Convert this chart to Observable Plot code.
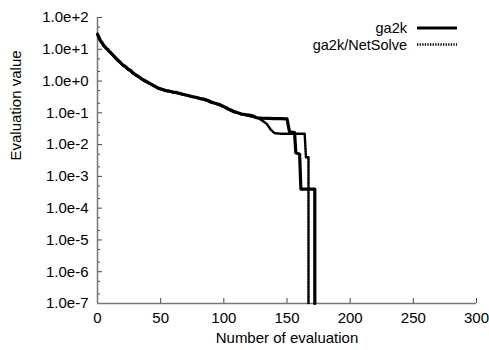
<!DOCTYPE html>
<html>
<head>
<meta charset="utf-8">
<script src="https://cdn.jsdelivr.net/npm/d3@7"></script>
<script src="https://cdn.jsdelivr.net/npm/@observablehq/plot@0.6"></script>
<style>
  html, body { margin: 0; padding: 0; background: #fff; }
  #chart { position: relative; width: 489px; height: 350px; }
</style>
</head>
<body>
<div id="chart"></div>
<script>
// Series names
const seriesNames = ["ga2k", "ga2k/NetSolve"];

// ga2k: number of evaluation vs evaluation value (1e-7 = reached zero, clipped at axis)
const ga2kEval = [0,1,2,3,4,5,6,7,8,9,10,12,14,16,18,20,22,24,26,28,30,33,36,39,42,45,48,51,54,57,60,63,66,69,72,75,78,81,84,87,90,93,96,99,102,105,108,111,114,117,120,123,126,130,135,140,145,150,152,156,157,160,161,172,172];
const ga2kValue = [30,25,20,17,15.5,13,12,10.5,10,8.8,8.2,6.8,5.6,4.6,3.9,3.2,2.9,2.4,2.2,1.8,1.6,1.35,1.1,0.95,0.82,0.7,0.6,0.55,0.5,0.48,0.45,0.43,0.4,0.37,0.35,0.32,0.31,0.28,0.27,0.25,0.22,0.2,0.185,0.165,0.14,0.125,0.11,0.1,0.092,0.088,0.085,0.08,0.07,0.068,0.067,0.066,0.066,0.065,0.025,0.024,0.0055,0.005,0.0004,0.0004,1e-7];

// ga2k/NetSolve
const nsEval = [0,1,2,3,4,5,6,7,8,9,10,12,14,16,18,20,22,24,26,28,30,33,36,39,42,45,48,51,54,57,60,63,66,69,72,75,78,81,84,87,90,93,96,99,102,105,108,111,114,117,120,123,126,128,131,134,137,140,145,150,155,160,164,165,167,167];
const nsValue = [28,24,19,16.5,14.5,12.5,11.5,10.5,9.5,8.5,7.8,6.5,5.4,4.4,3.8,3.1,2.8,2.3,2.1,1.75,1.55,1.3,1.08,0.92,0.8,0.68,0.59,0.54,0.5,0.47,0.44,0.42,0.39,0.37,0.34,0.33,0.3,0.29,0.26,0.24,0.21,0.2,0.18,0.16,0.15,0.12,0.105,0.1,0.09,0.085,0.08,0.075,0.07,0.066,0.055,0.045,0.03,0.023,0.022,0.022,0.022,0.022,0.022,0.004,0.004,1e-7];

// Tick definitions
const xTicks = [0,50,100,150,200,250,300];
const yTicks = [1e2,1e1,1e0,1e-1,1e-2,1e-3,1e-4,1e-5,1e-6,1e-7];
const yMinor = yTicks.slice(1).flatMap(d => [2*d, 5*d]);

const ga2k = ga2kEval.map((x, i) => ({x, y: ga2kValue[i]}));
const ns = nsEval.map((x, i) => ({x, y: nsValue[i]}));

const fmtExp = d => {
  const e = Math.round(Math.log10(d));
  return "1.0e" + (e >= 0 ? "+" : "-") + Math.abs(e);
};

const axisColor = "#777";

const plot = Plot.plot({
  width: 489,
  height: 350,
  marginLeft: 97,
  marginRight: 13,
  marginTop: 17,
  marginBottom: 47,
  style: {fontFamily: "'Liberation Sans', Arial, sans-serif", fontSize: "15px", background: "#fff", color: "#000"},
  x: {domain: [0, 300]},
  y: {type: "log", domain: [1e-7, 100]},
  marks: [
    Plot.axisX({ticks: xTicks, tickSize: 0, tickPadding: 9, tickFormat: d => String(d), label: null, fontSize: 15}),
    Plot.axisX({ticks: xTicks, tickSize: -5, tickFormat: () => "", label: null, stroke: "#444"}),
    Plot.axisY({ticks: yTicks, tickSize: 0, tickPadding: 9, tickFormat: fmtExp, label: null, fontSize: 15}),
    Plot.axisY({ticks: yTicks, tickSize: -5, tickFormat: () => "", label: null, stroke: "#444"}),
    Plot.axisY({ticks: yMinor, tickSize: -3, tickFormat: () => "", label: null, stroke: "#444"}),
    Plot.ruleX([0], {stroke: axisColor, strokeWidth: 1.5}),
    Plot.ruleY([1e-7], {stroke: axisColor, strokeWidth: 1.5}),
    Plot.line(ns, {x: "x", y: "y", stroke: "#000", strokeWidth: 2.5, strokeDasharray: "1.3,1.3"}),
    Plot.line(ga2k, {x: "x", y: "y", stroke: "#000", strokeWidth: 3.2}),
    Plot.text(["Number of evaluation"], {frameAnchor: "bottom", dy: 39, fontSize: 15}),
    Plot.text(["Evaluation value"], {frameAnchor: "left", rotate: -90, dx: -81, fontSize: 15})
  ]
});

document.getElementById("chart").appendChild(plot);

// Legend (top right)
const svg = d3.select(plot);
const legend = svg.append("g").attr("font-family", "'Liberation Sans', Arial, sans-serif").attr("font-size", 14.5);
const styles = [{w: 3.2, dash: null}, {w: 2.5, dash: "1.3,1.3"}];
seriesNames.forEach((name, i) => {
  const yy = 28 + i * 16.5;
  legend.append("text").attr("x", 407).attr("y", yy).attr("dy", "0.35em").attr("text-anchor", "end").text(name);
  legend.append("line").attr("x1", 417).attr("x2", 457).attr("y1", yy).attr("y2", yy)
    .attr("stroke", "#000").attr("stroke-width", styles[i].w)
    .attr("stroke-dasharray", styles[i].dash);
});
</script>
</body>
</html>
